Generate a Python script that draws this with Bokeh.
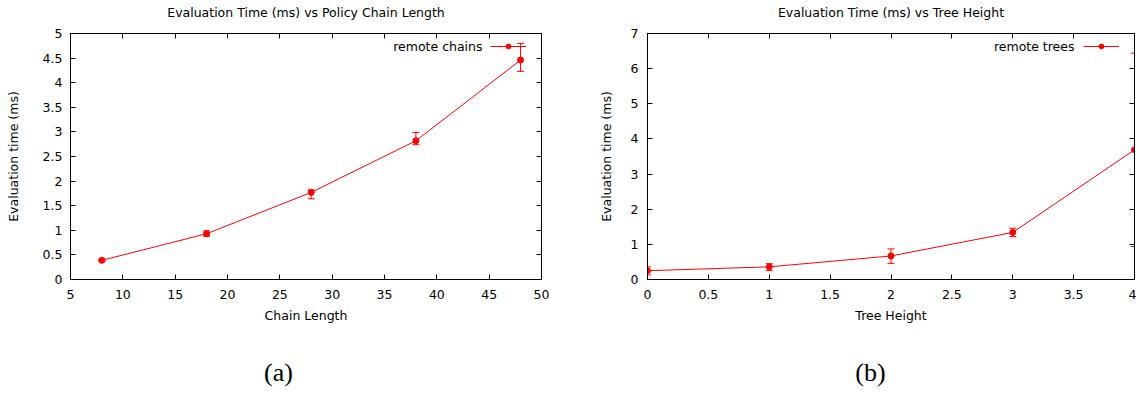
from bokeh.plotting import figure
from bokeh.models import (ColumnDataSource, Whisker, TeeHead, LinearAxis, FixedTicker,
                          CustomJSTickFormatter, Range1d, Legend, LegendItem, Label)
from bokeh.layouts import row, column
from bokeh.embed import file_html
from bokeh.resources import INLINE
from bokeh.core.properties import value

# ---- data (a) ----
chain_len = [8, 18, 28, 38, 48]
chain_time = [0.39, 0.93, 1.77, 2.82, 4.46]
chain_lo = [0.37, 0.88, 1.64, 2.74, 4.23]
chain_hi = [0.41, 0.99, 1.82, 2.99, 4.80]
chain_xticks = [5, 10, 15, 20, 25, 30, 35, 40, 45, 50]
chain_yticks = [0, 0.5, 1, 1.5, 2, 2.5, 3, 3.5, 4, 4.5, 5]

# ---- data (b) ----
tree_h = [0, 1, 2, 3, 4]
tree_time = [0.25, 0.36, 0.67, 1.34, 3.69]
tree_lo = [0.13, 0.26, 0.46, 1.22, 0.94]
tree_hi = [0.36, 0.45, 0.87, 1.46, 6.44]
tree_xticks = [0, 0.5, 1, 1.5, 2, 2.5, 3, 3.5, 4]
tree_yticks = [0, 1, 2, 3, 4, 5, 6, 7]

FONT = "DejaVu Sans"
FS = "12.5px"
RED = "#ff0000"


def style_axis(ax, ticks, labels=True):
    ax.ticker = FixedTicker(ticks=ticks, minor_ticks=[])
    ax.major_tick_in = 5
    ax.major_tick_out = 0
    ax.minor_tick_in = 0
    ax.minor_tick_out = 0
    ax.axis_line_color = "black"
    ax.major_tick_line_color = "black"
    ax.axis_label_text_font = FONT
    ax.axis_label_text_font_size = FS
    ax.axis_label_text_font_style = "normal"
    ax.axis_label_text_color = "black"
    if labels:
        ax.formatter = CustomJSTickFormatter(code="return tick.toString();")
        ax.major_label_text_font = FONT
        ax.major_label_text_font_size = FS
        ax.major_label_text_color = "black"
    else:
        ax.formatter = CustomJSTickFormatter(code="return '';")
        ax.major_label_text_font_size = "0px"
        ax.major_label_standoff = 0


def make_panel(title, xlabel, xs, ys, lo, hi, xr, yr, xticks, yticks, legend_text,
               width, mb_left, mb_right, ystandoff, ylab_standoff, leg_x, txt_x):
    fw = width - mb_left - mb_right
    p = figure(width=width, height=329,
               x_range=Range1d(*xr), y_range=Range1d(*yr),
               output_backend="svg", toolbar_location=None,
               min_border_left=mb_left, min_border_right=mb_right,
               min_border_top=33, min_border_bottom=50)
    p.xgrid.visible = False
    p.ygrid.visible = False
    p.outline_line_color = "black"
    p.outline_line_width = 1
    p.background_fill_color = "white"
    p.border_fill_color = "white"

    xa = p.xaxis[0]
    ya = p.yaxis[0]
    style_axis(xa, xticks)
    style_axis(ya, yticks)
    xa.axis_label = xlabel
    ya.axis_label = "Evaluation time (ms)"
    xa.major_label_standoff = 10
    xa.axis_label_standoff = 6
    ya.major_label_standoff = ystandoff
    ya.axis_label_standoff = ylab_standoff

    # mirrored top axis carries the chart title
    top = LinearAxis(axis_label=title)
    style_axis(top, xticks, labels=False)
    top.axis_label_standoff = 14
    p.add_layout(top, "above")
    right = LinearAxis()
    style_axis(right, yticks, labels=False)
    p.add_layout(right, "right")

    src = ColumnDataSource(dict(x=xs, y=ys, lo=lo, hi=hi))
    w = Whisker(source=src, base="x", lower="lo", upper="hi",
                line_color=RED, line_width=1,
                upper_head=TeeHead(size=7, line_color=RED, line_width=1),
                lower_head=TeeHead(size=7, line_color=RED, line_width=1))
    p.add_layout(w)
    ln = p.line("x", "y", source=src, line_color=RED, line_width=1)
    sc = p.scatter("x", "y", source=src, size=6, color=RED)

    leg = Legend(items=[LegendItem(label=value(""), renderers=[ln, sc])],
                 location=(fw - leg_x, 227), glyph_width=36, glyph_height=12,
                 label_width=0, label_height=12, label_standoff=0,
                 padding=0, margin=0, spacing=0,
                 border_line_color=None, background_fill_alpha=0)
    p.add_layout(leg)
    p.add_layout(Label(x=fw - txt_x, y=233.5, x_units="screen", y_units="screen",
                       text=legend_text, text_align="right", text_baseline="middle",
                       text_font=FONT, text_font_size=FS, text_color="black"))
    return p


def make_caption(text, width, cx):
    c = figure(width=width, height=60, x_range=Range1d(0, 1), y_range=Range1d(0, 1),
               x_axis_location=None, y_axis_location=None,
               output_backend="svg", toolbar_location=None, min_border=0)
    c.grid.visible = False
    c.outline_line_color = None
    c.add_layout(Label(x=cx, y=17, x_units="screen", y_units="screen",
                       text=text, text_align="center", text_baseline="middle",
                       text_font="Liberation Serif", text_font_size="26px",
                       text_color="black"))
    return c


p1 = make_panel("Evaluation Time (ms) vs Policy Chain Length", "Chain Length",
                chain_len, chain_time, chain_lo, chain_hi, (5, 50), (0, 5),
                chain_xticks, chain_yticks, "remote chains",
                width=580, mb_left=70, mb_right=39, ystandoff=8, ylab_standoff=19,
                leg_x=51, txt_x=59)
p2 = make_panel("Evaluation Time (ms) vs Tree Height", "Tree Height",
                tree_h, tree_time, tree_lo, tree_hi, (0, 4), (0, 7),
                tree_xticks, tree_yticks, "remote trees",
                width=556, mb_left=67, mb_right=2, ystandoff=9, ylab_standoff=14,
                leg_x=51, txt_x=60)
c1 = make_caption("(a)", 580, 278)
c2 = make_caption("(b)", 556, 290)

layout = column(row(p1, p2), row(c1, c2))
open("out.html", "w").write(file_html(layout, INLINE))
